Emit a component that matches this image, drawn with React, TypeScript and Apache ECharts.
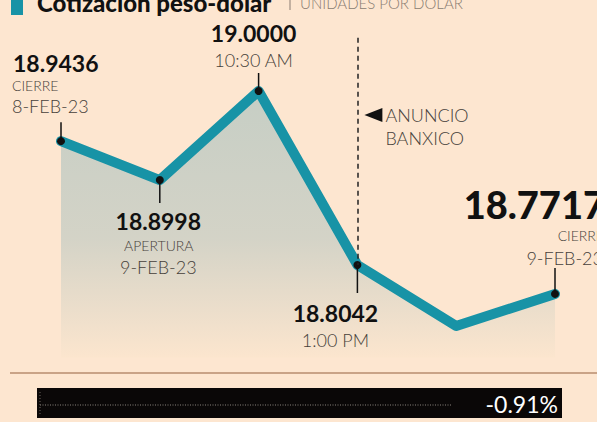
import React, { useEffect, useRef } from "react";
import * as echarts from "echarts";

const categories = ["Cierre 8-Feb", "Apertura 9-Feb", "10:30", "13:00", "14:30", "Cierre 9-Feb"];
const values = [18.9436, 18.8998, 19.0, 18.8042, 18.7355, 18.7717];
const subLabels1 = ["CIERRE", "APERTURA", "10:30 AM", "1:00 PM", "", "CIERRE"];
const subLabels2 = ["8-FEB-23", "9-FEB-23", "", "", "", "9-FEB-23"];
const titleText = "Cotización peso-dólar";
const subtitleText = "UNIDADES POR DÓLAR";
const eventText = ["ANUNCIO", "BANXICO"];
const eventIndex = 3;
const yMin = 18.7;
const yMax = 19.06;

const FONT = "Lato, 'Noto Sans', sans-serif";
const BG = "#fde6d0";
const TEAL = "#1893a6";
const LIGHT = "#463f3a";

export default function App() {
  const ref = useRef<HTMLDivElement>(null);
  useEffect(() => {
    const chart = echarts.init(ref.current!, null, { renderer: "svg" });
    const data = values.map((v, i) =>
      i === 4 ? { value: v, symbol: "none" } : { value: v }
    );
    chart.setOption({
      animation: false,
      backgroundColor: BG,
      grid: { left: 61, right: 42, top: 37.7, bottom: 64.4 },
      xAxis: {
        type: "category",
        data: categories,
        boundaryGap: false,
        show: false,
      },
      yAxis: { type: "value", min: yMin, max: yMax, show: false },
      series: [
        {
          type: "line",
          data,
          symbol: "circle",
          symbolSize: 8,
          showSymbol: true,
          itemStyle: { color: "#111" },
          lineStyle: { color: TEAL, width: 10, join: "round", cap: "round" },
          areaStyle: {
            origin: "start",
            color: new echarts.graphic.LinearGradient(0, 0, 0, 1, [
              { offset: 0, color: "#afc4c0" },
              { offset: 0.55, color: "#c2cbc3" },
              { offset: 1, color: "#fbe5cd" },
            ]),
          },
          z: 3,
          markLine: {
            silent: true,
            symbol: "none",
            label: { show: false },
            lineStyle: { color: "#222", type: [5, 4], width: 1.5 },
            data: [
              [
                { coord: [eventIndex, yMax] },
                { coord: [eventIndex, values[eventIndex]] },
              ],
            ],
          },
        },
      ],
    });

    const px = (i: number) =>
      chart.convertToPixel({ xAxisIndex: 0, yAxisIndex: 0 }, [i, values[i]]) as number[];

    const layout: Record<number, any> = {
      0: { tick: -19, align: "left", num: [-48, -78.5, 23], s1: [-49, -56, 14], s2: [-49, -35, 18] },
      1: { tick: 23, align: "center", num: [-1.5, 40.5, 23], s1: [-1, 65.5, 14], s2: [-1.5, 86.5, 18] },
      2: { tick: -18, align: "center", num: [-5, -58.5, 23], s1: [-5, -31, 18] },
      3: { tick: 28, align: "center", num: [-22, 47.5, 23], s1: [-22, 75, 18] },
      5: { tick: -26, align: "right", num: [50, -89.5, 38], s1: [49, -58.5, 14], s2: [48, -35.5, 18] },
    };

    const g: any[] = [];
    Object.keys(layout).forEach((k) => {
      const i = Number(k);
      const L = layout[i];
      const [x, y] = px(i);
      g.push({
        type: "line",
        shape: { x1: x, y1: y, x2: x, y2: y + L.tick },
        style: { stroke: "#111", lineWidth: 1.5 },
        z: 10,
      });
      g.push({
        type: "text",
        x: x + L.num[0],
        y: y + L.num[1],
        style: {
          text: values[i].toFixed(4),
          fill: "#111",
          fontFamily: FONT,
          fontWeight: L.num[2] > 30 ? 900 : "bold",
          fontSize: L.num[2],
          lineHeight: Math.round(L.num[2] * 0.75),
          align: L.align,
          verticalAlign: "middle",
        },
        z: 10,
      });
      const subs = [
        [L.s1, subLabels1[i]],
        [L.s2, subLabels2[i]],
      ];
      subs.forEach(([pos, txt]) => {
        if (!pos || !txt) return;
        g.push({
          type: "text",
          x: x + pos[0],
          y: y + pos[1],
          style: {
            text: txt,
            fill: LIGHT,
            fontFamily: FONT,
            fontWeight: 300,
            fontSize: pos[2],
            lineHeight: pos[2],
            align: L.align,
            verticalAlign: "middle",
          },
          z: 10,
        });
      });
    });

    const [ex] = px(eventIndex);
    g.push({
      type: "polygon",
      shape: { points: [[ex + 25, 108], [ex + 25, 122], [ex + 7, 115]] },
      style: { fill: "#111" },
    });
    eventText.forEach((t, j) => {
      g.push({
        type: "text",
        x: ex + 28,
        y: 114.5 + j * 23,
        style: {
          text: t,
          fill: LIGHT,
          fontFamily: FONT,
          fontWeight: 300,
          fontSize: 18,
          align: "left",
          verticalAlign: "middle",
        },
      });
    });

    // title
    g.push({ type: "rect", shape: { x: 11, y: -10, width: 12, height: 25 }, style: { fill: TEAL } });
    g.push({
      type: "text",
      x: 37,
      y: 2,
      style: {
        text: titleText,
        fill: "#111",
        fontFamily: FONT,
        fontWeight: 900,
        fontSize: 24,
        align: "left",
        verticalAlign: "middle",
      },
    });
    g.push({
      type: "line",
      shape: { x1: 290, y1: -5, x2: 290, y2: 10 },
      style: { stroke: "#8a7d72", lineWidth: 1 },
    });
    g.push({
      type: "text",
      x: 300,
      y: 3,
      style: {
        text: subtitleText,
        fill: "#8a7d72",
        fontFamily: FONT,
        fontWeight: 300,
        fontSize: 15,
        align: "left",
        verticalAlign: "middle",
      },
    });

    // bottom rule and change bar
    g.push({
      type: "line",
      shape: { x1: 10, y1: 373, x2: 597, y2: 373 },
      style: { stroke: "#c9a387", lineWidth: 2 },
    });
    g.push({ type: "rect", shape: { x: 37, y: 388, width: 525, height: 30 }, style: { fill: "#0a0707" } });
    g.push({
      type: "line",
      shape: { x1: 40, y1: 405, x2: 452, y2: 405 },
      style: { stroke: "#8a847e", lineWidth: 1, lineDash: [1, 1.5] },
    });
    g.push({
      type: "line",
      shape: { x1: 40, y1: 392, x2: 40, y2: 414 },
      style: { stroke: "#6a645e", lineWidth: 1, lineDash: [1, 2] },
    });
    const change = ((values[values.length - 1] / values[0] - 1) * 100).toFixed(2) + "%";
    g.push({
      type: "text",
      x: 558,
      y: 404,
      style: {
        text: change,
        fill: "#fff",
        fontFamily: FONT,
        fontSize: 23,
        align: "right",
        verticalAlign: "middle",
      },
    });

    chart.setOption({ graphic: g });
    return () => chart.dispose();
  }, []);
  return (
    <div
      ref={ref}
      style={{ position: "fixed", left: 0, top: 0, width: 597, height: 422 }}
    />
  );
}
